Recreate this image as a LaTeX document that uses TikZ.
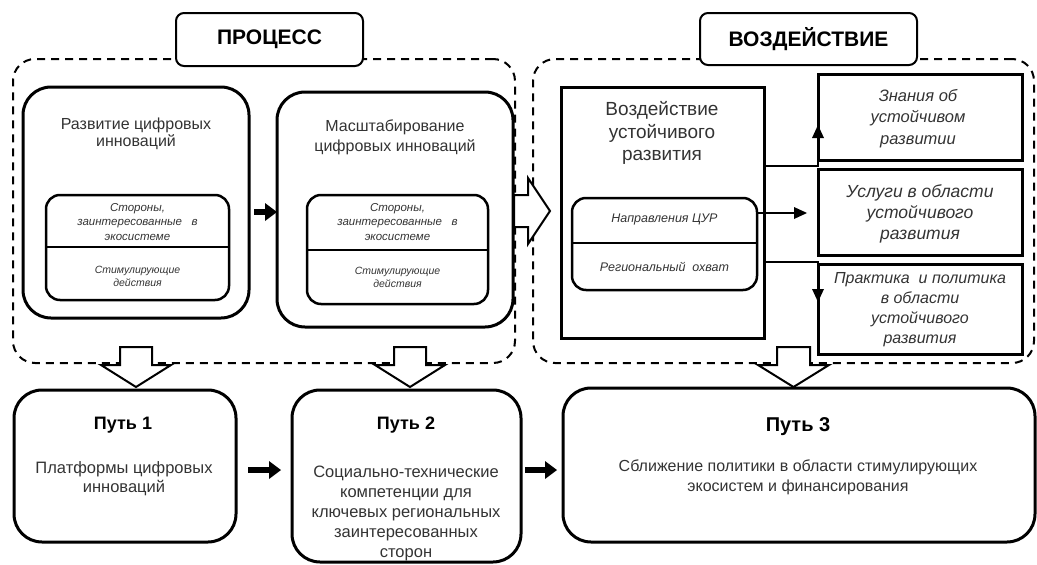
\documentclass[tikz,border=0pt]{standalone}
\usepackage{fontspec}
\setmainfont{Liberation Sans}
\usetikzlibrary{arrows.meta,calc}
\definecolor{txt}{HTML}{333333}
\begin{document}
\begin{tikzpicture}[x=1pt,y=-1pt,
  every node/.style={inner sep=0pt,outer sep=0pt},
  dashbox/.style={draw,line width=2pt,dash pattern=on 8pt off 6pt,rounded corners=22pt},
  titlebox/.style={draw,fill=white,line width=2pt,rounded corners=8pt},
  bigbox/.style={draw,line width=3pt,rounded corners=28pt},
  sqbox/.style={draw,line width=3pt},
  inbox/.style={draw,line width=2.5pt,rounded corners=14pt},
  blk/.style={draw,fill=white,line width=2pt,line join=miter},
  fat/.style={line width=6pt,-{Triangle[length=12pt,width=18pt,line width=0pt 0 0]}},
  conn/.style={line width=2pt,-{Triangle[length=13pt,width=12pt,line width=0pt 0 0]}},
  ttl/.style={font=\fontsize{21}{24}\selectfont\bfseries},
  body/.style={text=txt,align=center},
]
\useasboundingbox (0,0) rectangle (1037,565);

% dashed group frames
\node[dashbox,minimum width=502pt,minimum height=304pt] (proc) at (264,211) {};
\node[dashbox,minimum width=501pt,minimum height=304pt] (imp) at (783.5,211) {};

% titles
\node[titlebox,minimum width=187pt,minimum height=53pt] (tproc) at (269.5,39.5) {};
\node[ttl] (tproct) at (tproc) {ПРОЦЕСС};
\node[titlebox,minimum width=217pt,minimum height=52pt] (timp) at (808.5,39) {};
\node[ttl] (timpt) at (timp) {ВОЗДЕЙСТВИЕ};

% block arrows
\draw[blk] (514,195) -- (528,195) -- (528,178) -- (550,211) -- (528,244) -- (528,227) -- (514,227) -- cycle;
\draw[blk] (120,347) -- (152,347) -- (152,365) -- (171,365) -- (136,387) -- (101,365) -- (120,365) -- cycle;
\draw[blk] (394,347) -- (426,347) -- (426,365) -- (445,365) -- (410,387) -- (375,365) -- (394,365) -- cycle;
\draw[blk] (777,347) -- (810,347) -- (810,365) -- (829,365) -- (793.5,387) -- (758,365) -- (777,365) -- cycle;

% process boxes
\node[bigbox,minimum width=226pt,minimum height=231pt] (A) at (136,202.5) {};
\node[body,font=\fontsize{16}{17}\selectfont] (At) at (136,134) {Развитие цифровых\\инноваций};
\node[inbox,minimum width=183pt,minimum height=105pt] (A1) at (137.5,247.5) {};
\draw[line width=2.5pt] (A1.west |- 0,247) -- (A1.east |- 0,247);
\node[body,font=\fontsize{11.5}{14.5}\selectfont\itshape] (A1a) at (137.5,222) {Стороны,\\заинтересованные\ \ \ в\\экосистеме};
\node[body,font=\fontsize{10.5}{13}\selectfont\itshape] (A1b) at (137.5,276) {Стимулирующие\\действия};

\node[bigbox,minimum width=236pt,minimum height=235pt] (B) at (395,209.5) {};
\node[body,font=\fontsize{16}{20}\selectfont] (Bt) at (395,137) {Масштабирование\\цифровых инноваций};
\node[inbox,minimum width=181pt,minimum height=109pt] (B1) at (397.5,249.5) {};
\draw[line width=2.5pt] (B1.west |- 0,250) -- (B1.east |- 0,250);
\node[body,font=\fontsize{11.5}{14.5}\selectfont\itshape] (B1a) at (397.5,222) {Стороны,\\заинтересованные\ \ \ в\\экосистеме};
\node[body,font=\fontsize{10.5}{13}\selectfont\itshape] (B1b) at (397.5,277) {Стимулирующие\\действия};

\draw[fat,shorten <=5pt] (A.east |- 0,212) -- (B.west |- 0,212);

% impact boxes
\node[sqbox,minimum width=203pt,minimum height=251pt] (C) at (662.5,212.5) {};
\node[body,font=\fontsize{19}{22.5}\selectfont] (Ct) at (662,133) {Воздействие\\устойчивого\\развития};
\node[inbox,minimum width=185pt,minimum height=92pt] (C1) at (664.5,244) {};
\draw[line width=2.5pt] (C1.west |- 0,243) -- (C1.east |- 0,243);
\node[body,font=\fontsize{12.5}{15}\selectfont\itshape] (C1a) at (664.5,219) {Направления ЦУР};
\node[body,font=\fontsize{12.5}{15}\selectfont\itshape] (C1b) at (664.5,267) {Региональный\ \ охват};

\node[sqbox,minimum width=204pt,minimum height=86pt] (D) at (920,117) {};
\node[body,font=\fontsize{16.5}{21.5}\selectfont\itshape] (Dt) at (918,118.5) {Знания об\\устойчивом\\развитии};
\node[sqbox,minimum width=204pt,minimum height=86pt] (E) at (920,212) {};
\node[body,font=\fontsize{17.5}{21}\selectfont\itshape] (Et) at (920,214) {Услуги в области\\устойчивого\\развития};
\node[sqbox,minimum width=204pt,minimum height=90pt] (F) at (920,309) {};
\node[body,font=\fontsize{16}{20}\selectfont\itshape] (Ft) at (920,310) {Практика\ \ и политика\\в области\\устойчивого\\развития};

\draw[conn] (C.east |- 0,166) -| (D.west |- 0,125);
\draw[conn,shorten >=11pt] (C1.east |- 0,213) -- (E.west |- 0,213);
\draw[conn] (C.east |- 0,262) -| (F.west |- 0,302);

% pathways
\node[bigbox,minimum width=222pt,minimum height=152pt] (P1) at (125,466) {};
\node[font=\fontsize{18}{20}\selectfont\bfseries] (P1h) at (123,425) {Путь 1};
\node[body,font=\fontsize{16.5}{19}\selectfont] (P1t) at (124,479) {Платформы цифровых\\инноваций};

\node[bigbox,minimum width=229pt,minimum height=172pt] (P2) at (406.5,476) {};
\node[font=\fontsize{18}{20}\selectfont\bfseries] (P2h) at (406,425) {Путь 2};
\node[body,font=\fontsize{16.5}{20}\selectfont] (P2t) at (406,513) {Социально-технические\\компетенции для\\ключевых региональных\\заинтересованных\\сторон};

\node[bigbox,minimum width=472pt,minimum height=154pt] (P3) at (799,465) {};
\node[font=\fontsize{20}{22}\selectfont\bfseries] (P3h) at (798,427) {Путь 3};
\node[body,font=\fontsize{16}{20}\selectfont] (P3t) at (798,477) {Сближение политики в области стимулирующих\\экосистем и финансирования};

\draw[fat,shorten <=12pt,shorten >=11pt] (P1.east |- 0,470) -- (P2.west |- 0,470);
\draw[fat,shorten <=4pt,shorten >=6pt] (P2.east |- 0,470) -- (P3.west |- 0,470);
\end{tikzpicture}
\end{document}
